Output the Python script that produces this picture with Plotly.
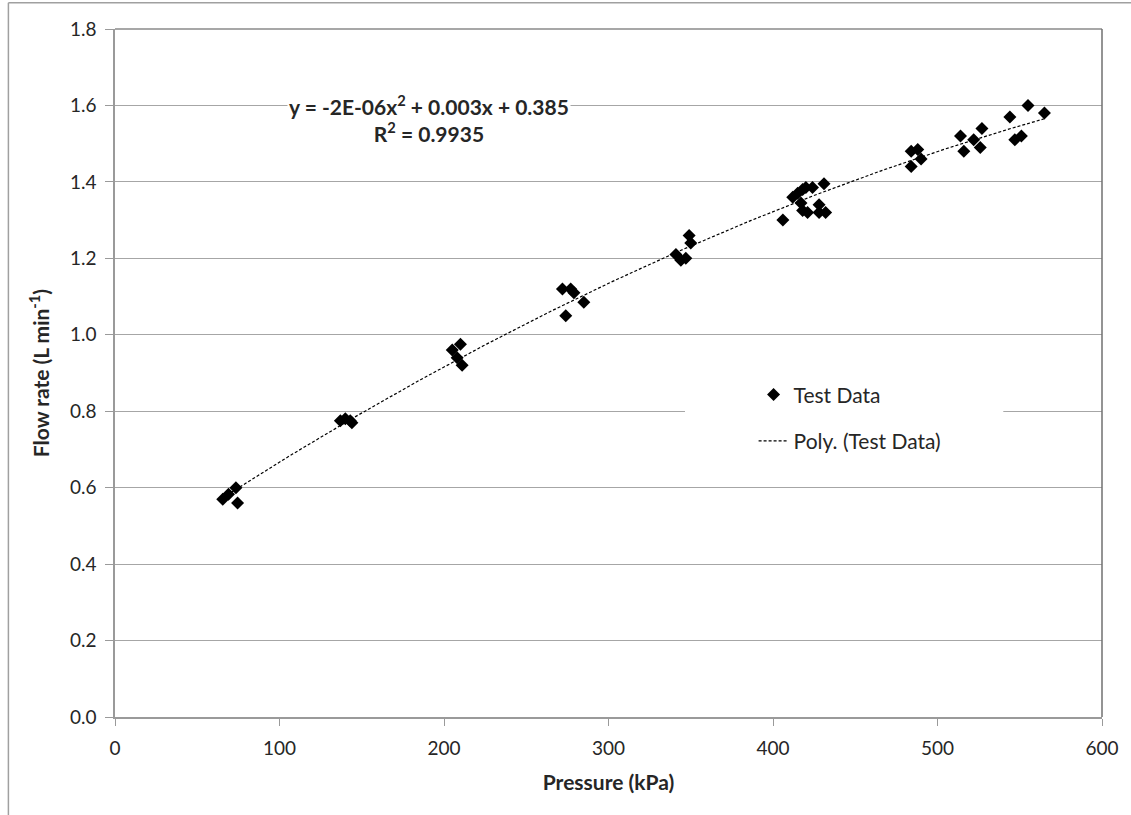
import numpy as np
import plotly.graph_objects as go

# Measured flow rate vs. pressure
pressure_kpa = [
    65.5, 69, 73.5, 74.5,
    137, 140, 143, 144,
    205, 210, 208, 211,
    272, 277, 279, 285, 274,
    349, 350, 341, 344, 347,
    406, 412, 415, 418, 420, 424, 431, 417, 418, 421, 428, 428, 432,
    484, 488, 490, 484, 514, 516, 522, 526, 527, 544, 547, 551, 555, 565,
]
flow_lpm = [
    0.57, 0.583, 0.60, 0.56,
    0.775, 0.78, 0.775, 0.77,
    0.96, 0.975, 0.94, 0.92,
    1.12, 1.12, 1.11, 1.085, 1.05,
    1.26, 1.24, 1.21, 1.195, 1.20,
    1.30, 1.36, 1.37, 1.38, 1.385, 1.385, 1.395, 1.345, 1.325, 1.32, 1.34, 1.32, 1.32,
    1.48, 1.485, 1.46, 1.44, 1.52, 1.48, 1.51, 1.49, 1.54, 1.57, 1.51, 1.52, 1.60, 1.58,
]

x_ticks = [0, 100, 200, 300, 400, 500, 600]
y_ticks = [0.0, 0.2, 0.4, 0.6, 0.8, 1.0, 1.2, 1.4, 1.6, 1.8]

# Second-order polynomial trendline fitted to the test data
coef = np.polyfit(pressure_kpa, flow_lpm, 2)
x_fit = np.linspace(min(pressure_kpa), max(pressure_kpa), 200)
y_fit = np.polyval(coef, x_fit)

FONT = "Lato, 'Open Sans', sans-serif"
TXT = "#262626"

fig = go.Figure()
fig.add_trace(go.Scatter(
    x=pressure_kpa, y=flow_lpm, mode="markers", name="Test Data",
    legendgroup="a",
    marker=dict(symbol="diamond", size=10, color="black", line=dict(width=0)),
))
fig.add_trace(go.Scatter(
    x=x_fit, y=y_fit, mode="lines", name="Poly. (Test Data)",
    legendgroup="b",
    line=dict(color="black", width=1.2, dash="3px,2px"),
))

fig.update_layout(
    width=1131, height=815,
    margin=dict(l=115, r=27, t=29, b=98),
    paper_bgcolor="white", plot_bgcolor="white",
    font=dict(family=FONT, size=19, color=TXT),
    showlegend=True,
    legend=dict(
        x=0.647, y=0.498, xanchor="left", yanchor="top",
        bgcolor="rgba(0,0,0,0)", borderwidth=0,
        traceorder="grouped", tracegroupgap=16,
        font=dict(family=FONT, size=21, color=TXT),
    ),
    xaxis=dict(
        range=[0, 600], tickvals=x_ticks, ticks="outside", ticklen=7,
        tickcolor="#9a9a9a", showline=True, linecolor="#9a9a9a", linewidth=1.5,
        showgrid=False, zeroline=False, ticklabelstandoff=6,
        tickfont=dict(family=FONT, size=19, color=TXT),
        title=dict(text="<b>Pressure (kPa)</b>", font=dict(family=FONT, size=21, color=TXT), standoff=18),
    ),
    yaxis=dict(
        range=[0, 1.8], tickvals=y_ticks, tickformat=".1f", ticks="outside", ticklen=8,
        tickcolor="#9a9a9a", showline=True, linecolor="#9a9a9a", linewidth=1.5,
        showgrid=True, gridcolor="#a6a6a6", gridwidth=1, zeroline=False, ticklabelstandoff=5,
        tickfont=dict(family=FONT, size=19, color=TXT),
        title=dict(text="<b>Flow rate (L min<sup>-1</sup>)</b>", font=dict(family=FONT, size=21, color=TXT), standoff=15),
    ),
)

# Plot-area frame (top and right edges)
fig.add_shape(type="line", xref="paper", yref="paper", x0=0, x1=1, y0=1, y1=1,
              line=dict(color="#8a8a8a", width=1.5))
fig.add_shape(type="line", xref="paper", yref="paper", x0=1, x1=1, y0=0, y1=1,
              line=dict(color="#707070", width=1.5))

# Outer chart border
fig.add_shape(type="line", xref="paper", yref="paper", x0=-0.108, x1=-0.108, y0=-0.2, y1=1.038,
              line=dict(color="#a0a0a0", width=1.5))
fig.add_shape(type="line", xref="paper", yref="paper", x0=-0.108, x1=1.1, y0=1.038, y1=1.038,
              line=dict(color="#a0a0a0", width=1.5))

# White legend panel masking the gridline behind the legend
fig.add_shape(type="rect", xref="x", yref="y", x0=346.5, x1=540, y0=0.66, y1=0.90,
              layer="between", fillcolor="white", line=dict(width=0))

# Trendline equation
fig.add_annotation(
    x=191, y=1.565, xref="x", yref="y", showarrow=False,
    text="<b>y = -2E-06x<sup>2</sup> + 0.003x + 0.385</b><br><b>R<sup>2</sup> = 0.9935</b>",
    font=dict(family=FONT, size=21, color=TXT), bgcolor="white", align="center",
)

fig.write_html("out.html")
